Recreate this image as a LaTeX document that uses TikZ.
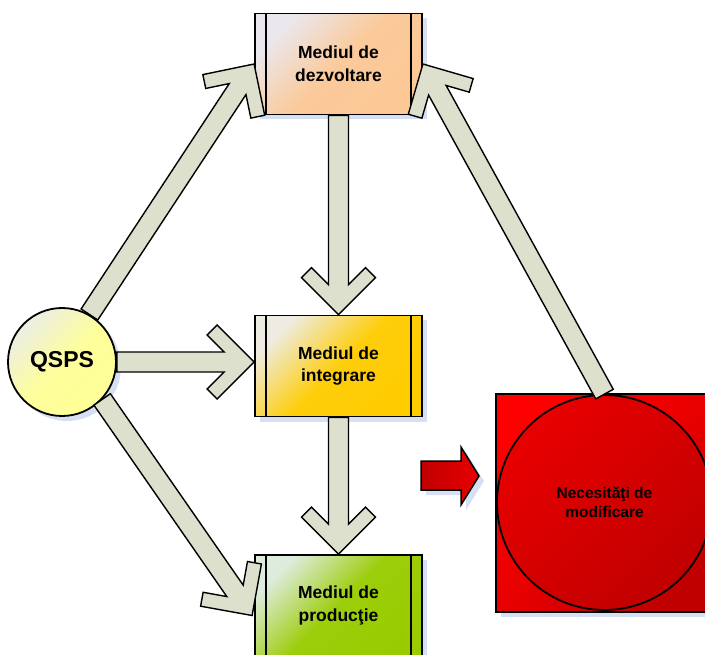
\documentclass[tikz,border=0pt]{standalone}
\usepackage{fontspec}
\setmainfont{Liberation Sans}
\usetikzlibrary{calc,shadows}
\definecolor{arrfill}{RGB}{220,224,204}
\definecolor{shadowblue}{RGB}{214,224,242}
\definecolor{devlight}{RGB}{234,232,238}
\definecolor{devc}{RGB}{252,200,150}
\definecolor{intlight}{RGB}{238,236,226}
\definecolor{intc}{RGB}{255,204,0}
\definecolor{prodlight}{RGB}{222,236,222}
\definecolor{prodc}{RGB}{153,204,0}
\definecolor{qlight}{RGB}{236,238,228}
\definecolor{qc}{RGB}{255,255,150}
\definecolor{redA}{RGB}{255,0,0}
\definecolor{redB}{RGB}{232,0,0}
\definecolor{redC}{RGB}{192,0,0}
\newcommand\chev[2]{%
  \coordinate (cv1) at ($(#2)!30pt!(#1)$);
  \coordinate (cv2) at ($(#2)!47pt!(#1)$);
  \coordinate (cv3) at ($(#2)!37pt!(#1)$);
  \draw[chevron] ($(#1)!10pt!90:(#2)$) -- ($(cv1)!10pt!-90:(#1)$) -- ($(cv2)!27pt!-90:(#1)$)
    -- ($(cv3)!37pt!-90:(#1)$) -- (#2) -- ($(cv3)!37pt!90:(#1)$) -- ($(cv2)!27pt!90:(#1)$)
    -- ($(cv1)!10pt!90:(#1)$) -- ($(#1)!10pt!-90:(#2)$) -- cycle;}
\begin{document}
\begin{tikzpicture}[x=1pt,y=-1pt,
  bshadow/.style={drop shadow={shadow xshift=5pt, shadow yshift=-5pt, fill=shadowblue, opacity=1}},
  envbox/.style={rectangle, draw, line width=1.8pt, minimum width=167pt, minimum height=101pt,
    inner sep=0pt, align=center, font=\bfseries\fontsize{17.5}{22.7}\selectfont, bshadow,
    path picture={\draw[line width=1.8pt]
      ([xshift=11pt]path picture bounding box.north west) -- ([xshift=11pt]path picture bounding box.south west)
      ([xshift=-11pt]path picture bounding box.north east) -- ([xshift=-11pt]path picture bounding box.south east);}},
  qspsnode/.style={circle, draw, line width=1.8pt, minimum size=108pt, inner sep=0pt,
    font=\bfseries\fontsize{23}{26}\selectfont, bshadow,
    top color=qlight, bottom color=qc, middle color=qc!92!qlight, shading angle=45},
  needsq/.style={rectangle, draw, line width=1.8pt, minimum size=218pt, inner sep=0pt, bshadow,
    top color=redA, bottom color=redC, middle color=redB, shading angle=45},
  needcirc/.style={circle, draw, line width=1.8pt, minimum size=215pt, inner sep=0pt, align=center,
    font=\bfseries\fontsize{15.5}{18.3}\selectfont,
    top color=redB, bottom color=redC, shading angle=45},
  chevron/.style={draw, line width=1.4pt, fill=arrfill, line join=miter},
  redarrow/.style={draw, line width=1.5pt, left color=redC, right color=redB, line join=miter}]
\clip (0,0) rectangle (705,655);
\node[envbox, top color=devlight, bottom color=devc, middle color=devc!95!devlight, shading angle=45]
  (dev) at (338.5,64) {Mediul de\\dezvoltare};
\node[envbox, top color=intlight, bottom color=intc, middle color=intc!95!intlight, shading angle=45]
  (int) at (338.5,366) {Mediul de\\integrare};
\node[envbox, top color=prodlight, bottom color=prodc, middle color=prodc!95!prodlight, shading angle=45]
  (prod) at (338.5,605.5) {Mediul de\\producţie};
\node[qspsnode] (qsps) at (62,362) {QSPS};
\node[needsq] (needbox) at (605,503) {};
\node[needcirc] (need) at (604.5,502.5) {Necesităţi de\\modificare};
% small red arrow
\fill[shadowblue] (426,466) -- (466,466) -- (466,452) -- (484,481) -- (466,510) -- (466,495) -- (426,495) -- cycle;
\draw[redarrow] (421,461) -- (461,461) -- (461,447) -- (479,476) -- (461,505) -- (461,490) -- (421,490) -- cycle;
% connectors
\coordinate (itip) at (qsps.east -| int.west);
\coordinate (ptip) at ($(prod.west)+(-2,10)$);
\chev{qsps.60}{dev.west}
\chev{qsps.east}{itip}
\chev{qsps.-43}{ptip}
\chev{dev.south}{int.north}
\chev{int.south}{prod.north}
\chev{need.north}{dev.east}
\end{tikzpicture}
\end{document}
